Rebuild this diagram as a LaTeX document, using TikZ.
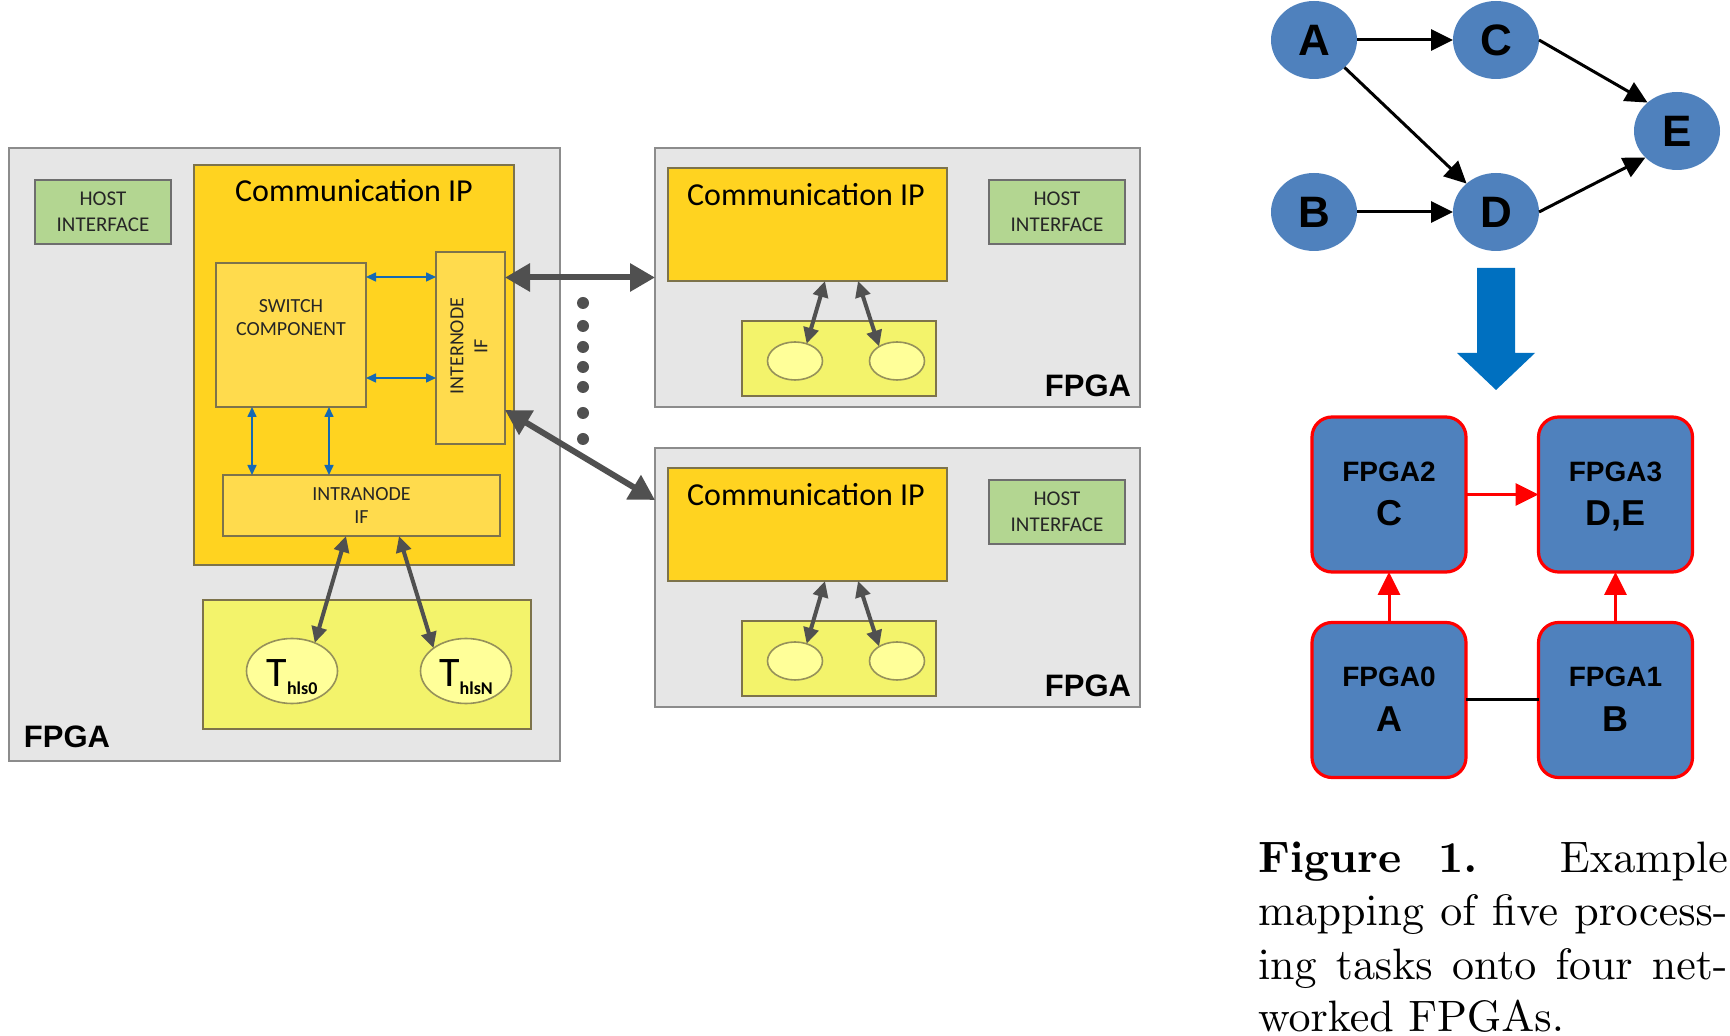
\documentclass[tikz,border=0pt]{standalone}
\usepackage{fontspec}
\usetikzlibrary{arrows.meta,shapes.geometric}
\newfontfamily\carl{Carlito}
\newfontfamily\lsans{Liberation Sans}
\font\capfont=cmr10 at 22pt
\font\capbf=cmbx10 at 22pt
\definecolor{fpgafill}{RGB}{230,230,230}
\definecolor{fpgaline}{RGB}{140,140,140}
\definecolor{hostfill}{RGB}{179,214,145}
\definecolor{hostline}{RGB}{110,110,110}
\definecolor{commfill}{RGB}{255,211,32}
\definecolor{subfill}{RGB}{255,219,77}
\definecolor{yline}{RGB}{125,115,75}
\definecolor{taskfill}{RGB}{243,243,107}
\definecolor{ellfill}{RGB}{255,255,153}
\definecolor{ellline}{RGB}{150,145,90}
\definecolor{darkarrow}{RGB}{80,80,80}
\definecolor{bluelink}{RGB}{20,105,180}
\definecolor{nodeblue}{RGB}{79,129,189}
\definecolor{bigblue}{RGB}{0,112,192}
\definecolor{mapred}{RGB}{255,0,0}
\tikzset{
  every node/.style={inner sep=0pt, outer sep=0pt},
  fpgabox/.style={draw=fpgaline, fill=fpgafill, line width=1.2pt, anchor=north west},
  hostbox/.style={draw=hostline, fill=hostfill, line width=1pt, anchor=north west, align=center,
    font=\carl\fontsize{10.5}{13}\selectfont, text=black!85},
  commbox/.style={draw=yline, fill=commfill, line width=1pt, anchor=north west},
  subbox/.style={draw=yline, fill=subfill, line width=1pt, anchor=north west},
  taskbox/.style={draw=yline, fill=taskfill, line width=1pt, anchor=north west},
  task/.style={ellipse, draw=ellline, fill=ellfill, line width=0.8pt},
  smalltxt/.style={align=center, font=\carl\fontsize{10}{11.5}\selectfont, text=black!85},
  commtxt/.style={anchor=base, font=\carl\fontsize{16}{18}\selectfont},
  ttxt/.style={anchor=base},
  fpgalabel/.style={font=\lsans\bfseries\fontsize{15.5}{18}\selectfont},
  barrow/.style={draw=bluelink, line width=0.8pt, {Triangle[length=5pt,width=4.5pt]}-{Triangle[length=5pt,width=4.5pt]}},
  garrow/.style={draw=darkarrow, line width=2pt, {Triangle[length=8pt,width=7.5pt]}-{Triangle[length=8pt,width=7.5pt]}},
  bigarrow/.style={draw=darkarrow, line width=3pt, {Triangle[length=12.5pt,width=13.5pt]}-{Triangle[length=12.5pt,width=13.5pt]}},
  dotnode/.style={circle, fill=darkarrow, minimum size=6pt},
  gnode/.style={ellipse, fill=nodeblue, minimum width=43pt, minimum height=39pt,
    font=\lsans\bfseries\fontsize{22}{22}\selectfont},
  karrow/.style={draw=black, line width=1.5pt, -{Triangle[length=11pt,width=10.5pt]}},
  mapbox/.style={rectangle, rounded corners=10pt, draw=mapred, fill=nodeblue, line width=1.6pt,
    minimum width=77pt, minimum height=77.5pt},
  maptop/.style={anchor=base, font=\lsans\bfseries\fontsize{14}{14}\selectfont},
  mapbot/.style={anchor=base, font=\lsans\bfseries\fontsize{18}{18}\selectfont},
  rarrow/.style={draw=mapred, line width=1.5pt, -{Triangle[length=11.5pt,width=11pt]}},
  capline/.style={anchor=base west}
}
\newcommand{\tlabel}[1]{{\fontsize{21}{21}\selectfont T}\raisebox{-4pt}{\fontsize{9}{9}\selectfont\bfseries #1}}
\begin{document}
\begin{tikzpicture}[x=0.5pt, y=-0.5pt]
\useasboundingbox (0,0) rectangle (1730,1036);

% ---------------- left FPGA ----------------
\node[fpgabox, minimum width=275.5pt, minimum height=306.5pt] (fpgaL) at (9,148) {};
\node[hostbox, minimum width=68pt, minimum height=32pt] (hostL) at (35,180) {HOST\\INTERFACE};
\node[commbox, minimum width=160pt, minimum height=200pt] (commL) at (194,165) {};
\node[commtxt] (commLt) at (354,202) {Communication IP};
\node[subbox, minimum width=75pt, minimum height=72pt] (switch) at (216,263) {};
\node[smalltxt] (switcht) at (291,318) {SWITCH\\COMPONENT};
\node[subbox, minimum width=34.5pt, minimum height=96pt] (interL) at (436,252) {};
\node[smalltxt, rotate=90, font=\carl\fontsize{10}{12}\selectfont] (interLt) at (469,346) {INTERNODE\\IF};
\node[subbox, minimum width=138.5pt, minimum height=30.5pt, smalltxt] (intraL) at (223,475) {INTRANODE\\IF};
\node[taskbox, minimum width=164pt, minimum height=64.5pt] (taskL) at (203,600) {};
\node[task, minimum width=45.5pt, minimum height=32.5pt] (tL0) at (292,671) {};
\node[task, minimum width=45.5pt, minimum height=32.5pt] (tLN) at (466,671) {};
\node[ttxt] (tL0t) at ([yshift=-8pt]tL0.center) {\carl\tlabel{hls0}};
\node[ttxt] (tLNt) at ([yshift=-8pt]tLN.center) {\carl\tlabel{hlsN}};
\node[fpgalabel, anchor=base west] (labL) at (24,748) {FPGA};

% blue links
\draw[barrow] ([yshift=29pt]switch.east) -- ([yshift=29pt]switch.east -| interL.west);
\draw[barrow] ([yshift=-21.5pt]switch.east) -- ([yshift=-21.5pt]switch.east -| interL.west);
\draw[barrow] ([xshift=-19.5pt]switch.south) -- ([xshift=-19.5pt]switch.south |- intraL.north);
\draw[barrow] ([xshift=19pt]switch.south) -- ([xshift=19pt]switch.south |- intraL.north);
% task links
\draw[garrow] ([xshift=-7.75pt]intraL.south) -- (tL0.51);
\draw[garrow] ([xshift=18.75pt]intraL.south) -- (tLN.145);

% ---------------- right FPGAs ----------------
\foreach \k/\dy in {1/0, 2/300} {
  \node[fpgabox, minimum width=242.5pt, minimum height=129.5pt] (fpgaR\k) at (655,148+\dy) {};
  \node[commbox, minimum width=139.5pt, minimum height=56.5pt] (commR\k) at (668,168+\dy) {};
  \node[commtxt] (commR\k t) at (806,206+\dy) {Communication IP};
  \node[hostbox, minimum width=68pt, minimum height=32pt] (hostR\k) at (989,180+\dy) {HOST\\INTERFACE};
  \node[taskbox, minimum width=97pt, minimum height=37.5pt] (taskR\k) at (742,321+\dy) {};
  \node[task, minimum width=27.5pt, minimum height=19pt] (eR\k a) at (795,361+\dy) {};
  \node[task, minimum width=27.5pt, minimum height=19pt] (eR\k b) at (897,361+\dy) {};
  \node[fpgalabel, anchor=base east] (labR\k) at (1131,397+\dy) {FPGA};
  \draw[garrow] ([xshift=8.75pt]commR\k.south) -- (eR\k a.56);
  \draw[garrow] ([xshift=25.25pt]commR\k.south) -- (eR\k b.141);
}

% inter-FPGA links
\draw[bigarrow] (fpgaR1.west -| interL.east) -- (fpgaR1.west);
\draw[bigarrow] ([yshift=-31pt]interL.east) -- ([yshift=38.75pt]fpgaR2.west);
\foreach \y [count=\i] in {303,326,347,367,387,413,439}
  \node[dotnode] (dot\i) at (583,\y) {};

% ---------------- task graph ----------------
\node[gnode] (A) at (1314,40) {A};
\node[gnode] (C) at (1496,40) {C};
\node[gnode] (E) at (1677,131) {E};
\node[gnode] (B) at (1314,212) {B};
\node[gnode] (D) at (1496,212) {D};
\draw[karrow] (A) -- (C);
\draw[karrow] (A.318) -- (D.136);
\draw[karrow] (C.east) -- (E.136);
\draw[karrow] (B) -- (D);
\draw[karrow] (D.east) -- (E.220);

\fill[bigblue] (1477,268) -- (1515,268) -- (1515,353) -- (1535,353) -- (1496,390)
  -- (1457,353) -- (1477,353) -- cycle;

% ---------------- mapping ----------------
\node[mapbox] (f2) at (1389,494.5) {};
\node[mapbox] (f3) at (1615.5,494.5) {};
\node[mapbox] (f0) at (1389,700) {};
\node[mapbox] (f1) at (1615.5,700) {};
\node[maptop] (f2a) at ([yshift=6.25pt]f2.center) {FPGA2};
\node[mapbot] (f2b) at ([yshift=-15.75pt]f2.center) {C};
\node[maptop] (f3a) at ([yshift=6.25pt]f3.center) {FPGA3};
\node[mapbot] (f3b) at ([yshift=-15.75pt]f3.center) {D,E};
\node[maptop] (f0a) at ([yshift=6.5pt]f0.center) {FPGA0};
\node[mapbot] (f0b) at ([yshift=-16pt]f0.center) {A};
\node[maptop] (f1a) at ([yshift=6.5pt]f1.center) {FPGA1};
\node[mapbot] (f1b) at ([yshift=-16pt]f1.center) {B};
\draw[rarrow] (f2) -- (f3);
\draw[rarrow] (f0) -- (f2);
\draw[rarrow] (f1) -- (f3);
\draw[black, line width=1.5pt] (f0) -- (f1);

% ---------------- caption ----------------
\node[capline] (cap1) at (1258,872) {\makebox[235pt][l]{\capbf Figure\hspace*{18.5pt}1.\hfill\capfont Example}};
\node[capline] (cap2) at (1258,926) {\makebox[235pt][s]{\capfont mapping of five process-}};
\node[capline] (cap3) at (1258,979) {\makebox[235pt][s]{\capfont ing tasks onto four net-}};
\node[capline] (cap4) at (1258,1031) {\capfont worked FPGAs.};
\end{tikzpicture}
\end{document}
